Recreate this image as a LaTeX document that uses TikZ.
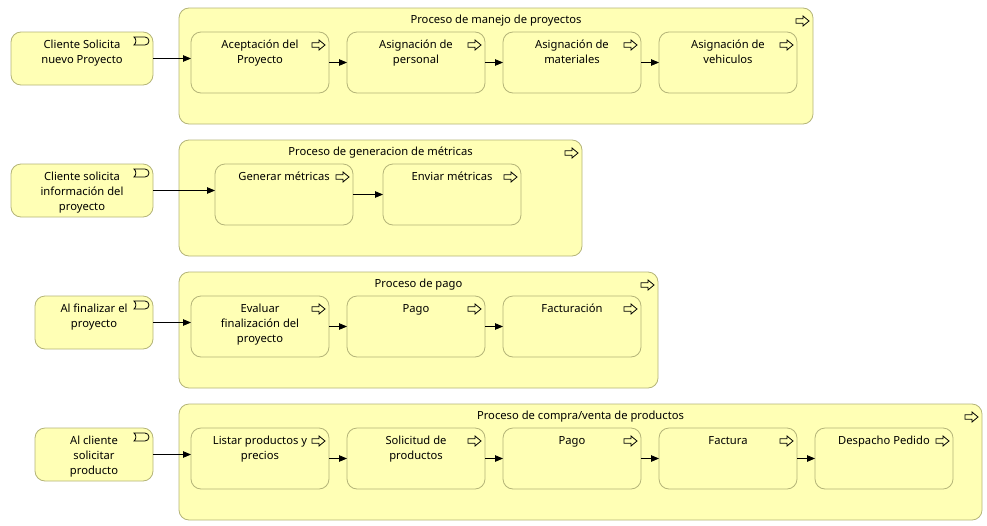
\documentclass[tikz,border=0pt]{standalone}
\usepackage{fontspec}
\setmainfont{Noto Sans}
\usetikzlibrary{arrows.meta}
\definecolor{bizfill}{RGB}{255,255,181}
\definecolor{bizline}{RGB}{180,180,120}
\tikzset{
  elem/.style={draw=bizline, fill=bizfill, rounded corners=10pt, line width=0.8pt, anchor=north west, inner sep=0, outer sep=0},
  lbl/.style={anchor=north, align=center, font=\fontsize{11.2}{15}\selectfont, inner sep=0},
  flow/.style={-{Triangle[length=8pt,width=6.5pt]}, line width=0.9pt},
  iconline/.style={draw=black, line width=0.8pt, fill=bizfill},
}
\newcommand\procicon[1]{\draw[iconline, shift={(#1.north east)}] (-17,10.8) -- (-10,10.8) -- (-10,8) -- (-4,13) -- (-10,18) -- (-10,15.2) -- (-17,15.2) -- cycle;}
\newcommand\evicon[1]{\draw[iconline, shift={(#1.north east)}] (-19,5) -- (-8,5) .. controls (-5.8,5) and (-4,6.8) .. (-4,9) .. controls (-4,11.2) and (-5.8,13) .. (-8,13) -- (-19,13) .. controls (-16.5,11) and (-16.5,7) .. (-19,5) -- cycle;}
\begin{document}
\begin{tikzpicture}[x=1pt,y=-1pt]
\useasboundingbox (0,0) rectangle (987,525);
% groups
\node[elem, minimum width=634pt, minimum height=116pt] (g1) at (179,8) {};
\node[elem, minimum width=403pt, minimum height=116pt] (g2) at (179,140) {};
\node[elem, minimum width=479pt, minimum height=116pt] (g3) at (179,272) {};
\node[elem, minimum width=803pt, minimum height=116pt] (g4) at (179,404) {};
\foreach \g/\t in {g1/{Proceso de manejo de proyectos}, g2/{Proceso de generacion de métricas}, g3/{Proceso de pago}, g4/{Proceso de compra/venta de productos}} {
  \node[lbl] (\g t) at ([yshift=-6.5pt]\g.north) {\t};
  \procicon{\g}
}
% events
\node[elem, minimum width=142pt, minimum height=53pt] (e1) at (11,32) {};
\node[elem, minimum width=142pt, minimum height=53pt] (e2) at (11,164) {};
\node[elem, minimum width=118pt, minimum height=53pt] (e3) at (35,296) {};
\node[elem, minimum width=118pt, minimum height=53pt] (e4) at (35,428) {};
\foreach \e/\t in {e1/{Cliente Solicita\\nuevo Proyecto}, e2/{Cliente solicita\\información del\\proyecto}, e3/{Al finalizar el\\proyecto}, e4/{Al cliente\\solicitar\\producto}} {
  \node[lbl] (\e t) at ([yshift=-8pt]\e.north) {\t};
  \evicon{\e}
}
% processes
\foreach \b/\x/\y in {b11/191/32, b12/347/32, b13/503/32, b14/659/32,
                      b21/215/164, b22/383/164,
                      b31/191/296, b32/347/296, b33/503/296,
                      b41/191/428, b42/347/428, b43/503/428, b44/659/428, b45/815/428} {
  \node[elem, minimum width=138pt, minimum height=61pt] (\b) at (\x,\y) {};
  \procicon{\b}
}
\foreach \b/\t in {b11/{Aceptación del\\Proyecto}, b12/{Asignación de\\personal}, b13/{Asignación de\\materiales}, b14/{Asignación de\\vehiculos},
                   b21/{Generar métricas}, b22/{Enviar métricas},
                   b31/{Evaluar\\finalización del\\proyecto}, b32/{Pago}, b33/{Facturación},
                   b41/{Listar productos y\\precios}, b42/{Solicitud de\\productos}, b43/{Pago}, b44/{Factura}, b45/{Despacho Pedido}} {
  \node[lbl] (\b t) at ([yshift=-8pt]\b.north) {\t};
}
% connectors
\draw[flow] (e1.east) -- (e1.east -| b11.west);
\draw[flow] (e2.east) -- (e2.east -| b21.west);
\draw[flow] (e3.east) -- (e3.east -| b31.west);
\draw[flow] (e4.east) -- (e4.east -| b41.west);
\draw[flow] (b11) -- (b12);
\draw[flow] (b12) -- (b13);
\draw[flow] (b13) -- (b14);
\draw[flow] (b21) -- (b22);
\draw[flow] (b31) -- (b32);
\draw[flow] (b32) -- (b33);
\draw[flow] (b41) -- (b42);
\draw[flow] (b42) -- (b43);
\draw[flow] (b43) -- (b44);
\draw[flow] (b44) -- (b45);
\end{tikzpicture}
\end{document}
